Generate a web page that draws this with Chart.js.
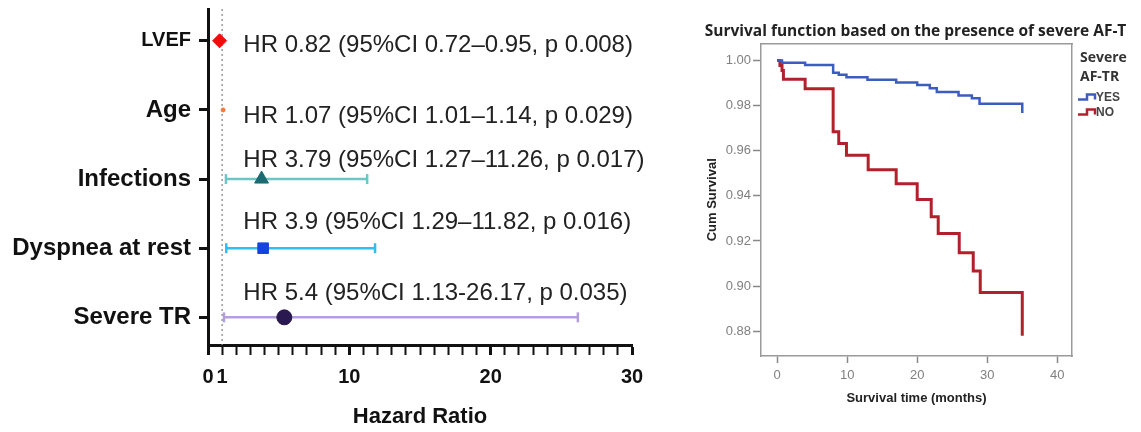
<!DOCTYPE html>
<html><head><meta charset="utf-8">
<script src="https://cdn.jsdelivr.net/npm/chart.js@4.4.1/dist/chart.umd.min.js"></script>
<style>
html,body{margin:0;padding:0;background:#fff;}
#wrap{position:relative;width:1141px;height:432px;overflow:hidden;background:#fff;}
#c1{position:absolute;left:0;top:0;}
#c2{position:absolute;left:690px;top:0;}
</style></head><body>
<div id="wrap"><canvas id="c1" width="660" height="432"></canvas><canvas id="c2" width="451" height="432"></canvas></div>
<script>
// ---------- Forest plot data ----------
const factors = ['LVEF', 'Age', 'Infections', 'Dyspnea at rest', 'Severe TR'];
const hr = [0.82, 1.07, 3.79, 3.9, 5.4];
const ciLow = [0.72, 1.01, 1.27, 1.29, 1.13];
const ciHigh = [0.95, 1.14, 11.26, 11.82, 26.17];
const hrText = [
  'HR 0.82 (95%CI 0.72\u20130.95, p 0.008)',
  'HR 1.07 (95%CI 1.01\u20131.14, p 0.029)',
  'HR 3.79 (95%CI 1.27\u201311.26, p 0.017)',
  'HR 3.9 (95%CI 1.29\u201311.82, p 0.016)',
  'HR 5.4 (95%CI 1.13-26.17, p 0.035)'
];
const hrLabeledTicks = [0, 1, 10, 20, 30];
const referenceHR = 1;

// ---------- Kaplan-Meier data ----------
const kmGroups = ['YES', 'NO'];
const kmTimeYes = [0, 0.7, 4, 8, 8.8, 9.9, 12.9, 17, 20, 21.8, 22.8, 25.9, 27.8, 28.9, 35];
const kmSurvYes = [1.000, 0.999, 0.998, 0.9946, 0.9937, 0.9926, 0.9915, 0.9903, 0.9892, 0.9877, 0.986, 0.9845, 0.9833, 0.9808, 0.9767];
const kmTimeNo = [0, 0.4, 0.7, 0.9, 4, 8, 8.8, 9.9, 13, 17, 20, 22, 23, 26, 28, 29, 35];
const kmSurvNo = [1.000, 0.9978, 0.9956, 0.9917, 0.9875, 0.9684, 0.9632, 0.958, 0.9516, 0.9454, 0.9384, 0.9307, 0.9233, 0.9148, 0.9067, 0.8972, 0.878];
const kmYTicks = [0.88, 0.90, 0.92, 0.94, 0.96, 0.98, 1.00];
const kmXTicks = [0, 10, 20, 30, 40];
const kmLegendTitle = ['Severe', 'AF-TR'];
const kmTitle = 'Survival function based on the presence of severe AF-T';

// ---------- styles ----------
const FAM = '"Liberation Sans", Arial, sans-serif';
Chart.defaults.font.family = FAM;
const markerShape = ['rectRot', 'circle', 'triangle', 'rect', 'circle'];
const markerColor = ['#f40a0a', '#f07a3a', '#1b6c72', '#1444e0', '#2a1850'];
const markerSize = [7, 2, 8, 7.5, 7.5];
const barColor = ['#f40a0a', '#f07a3a', '#6cc6c6', '#30bdf0', '#b49ee0'];
const capSize = [0, 0, 5, 5, 5];
const textDy = [5, 6.5, -19, -25.5, -23.5];
const Y_MIN = -0.46, Y_MAX = 4.4;

const ciSets = factors.map((f, i) => ({
  type: 'line',
  label: f + ' CI',
  data: [{x: ciLow[i], y: i}, {x: ciHigh[i], y: i}],
  borderColor: barColor[i],
  borderWidth: 2.5,
  pointStyle: 'line',
  rotation: 90,
  pointRadius: capSize[i],
  pointBorderColor: barColor[i],
  pointBorderWidth: 2.5,
  order: 1
}));

const hrTextPlugin = {
  id: 'hrText',
  afterDatasetsDraw(chart) {
    const {ctx, scales: {x, y}} = chart;
    ctx.save();
    ctx.font = '24px ' + FAM;
    ctx.fillStyle = '#222';
    ctx.textAlign = 'left';
    ctx.textBaseline = 'middle';
    hrText.forEach((t, i) => {
      ctx.fillText(t, x.getPixelForValue(2.5), y.getPixelForValue(i) + textDy[i]);
    });
    ctx.restore();
  }
};

new Chart(document.getElementById('c1'), {
  type: 'scatter',
  data: {
    datasets: [
      {
        type: 'scatter', label: 'HR',
        data: hr.map((v, i) => ({x: v, y: i})),
        pointStyle: markerShape,
        pointRadius: markerSize,
        pointBackgroundColor: markerColor,
        pointBorderColor: markerColor,
        pointBorderWidth: 1,
        order: 0
      },
      ...ciSets,
      {
        type: 'line', label: 'ref',
        data: [{x: referenceHR, y: Y_MIN}, {x: referenceHR, y: Y_MAX}],
        borderColor: '#8a8a8a', borderWidth: 1.3, borderDash: [2, 3],
        pointRadius: 0, order: 2
      }
    ]
  },
  options: {
    responsive: false, animation: false,
    layout: {padding: {top: 7, right: 28, left: 0, bottom: 0}},
    plugins: {legend: {display: false}, tooltip: {enabled: false}},
    scales: {
      x: {
        type: 'linear', min: 0, max: 30,
        afterBuildTicks: s => { const t = []; for (let v = 0; v <= 30; v++) t.push({value: v}); s.ticks = t; },
        ticks: {
          autoSkip: false, maxRotation: 0, minRotation: 0, padding: 10,
          callback: v => hrLabeledTicks.includes(v) ? String(v) : '',
          color: '#111', font: {size: 20, weight: 'bold'}
        },
        grid: {drawOnChartArea: false, tickLength: 10, tickColor: '#111',
          tickWidth: c => (c.tick && [0, 10, 20, 30].includes(c.tick.value)) ? 3 : 2},
        border: {display: true, color: '#111', width: 3},
        title: {display: true, text: 'Hazard Ratio', color: '#111',
          font: {size: 22, weight: 'bold'}, padding: {top: 0, bottom: 2}},
        afterFit: s => { s.height = 87; s.paddingLeft = 0; s.paddingRight = 0; }
      },
      y: {
        type: 'linear', reverse: true, min: Y_MIN, max: Y_MAX,
        afterBuildTicks: s => { s.ticks = factors.map((f, i) => ({value: i})); },
        ticks: {
          autoSkip: false, padding: 8,
          callback: v => factors[v],
          color: '#111',
          font: c => ({size: c.index === 0 ? 20 : 24, weight: 'bold', family: FAM})
        },
        grid: {drawOnChartArea: false, tickLength: 9, tickWidth: 3, tickColor: '#111'},
        border: {display: true, color: '#111', width: 3},
        afterFit: s => { s.width = 208; s.paddingTop = 0; s.paddingBottom = 0; }
      }
    }
  },
  plugins: [hrTextPlugin]
});

// ---------- Kaplan-Meier chart ----------
const kmColors = ['#3d5cbf', '#b2202b'];
const kmLegendPlugin = {
  id: 'kmLegend',
  afterDraw(chart) {
    const {ctx} = chart;
    ctx.save();
    ctx.fillStyle = '#333';
    ctx.font = 'bold 14px "Open Sans", ' + FAM;
    ctx.textAlign = 'left';
    ctx.textBaseline = 'middle';
    ctx.fillText(kmLegendTitle[0], 390, 58.5);
    ctx.fillText(kmLegendTitle[1], 390, 77);
    ctx.font = 'bold 12px ' + FAM;
    chart.data.datasets.forEach((ds, i) => {
      const yy = 97 + i * 15;
      ctx.strokeStyle = ds.borderColor;
      ctx.lineWidth = 2.5;
      ctx.beginPath();
      ctx.moveTo(388, yy + 2.5);
      ctx.lineTo(397, yy + 2.5);
      ctx.lineTo(397, yy - 2.5);
      ctx.lineTo(405, yy - 2.5);
      ctx.lineTo(405, yy + 2.5);
      ctx.stroke();
      ctx.fillStyle = '#444';
      ctx.fillText(ds.label, 406, yy + 0.5);
    });
    ctx.restore();
  }
};

new Chart(document.getElementById('c2'), {
  type: 'line',
  data: {
    datasets: [
      {label: kmGroups[0], data: kmTimeYes.map((t, i) => ({x: t, y: kmSurvYes[i]})),
       stepped: 'before', borderColor: kmColors[0], borderWidth: 2.5, pointRadius: 0, fill: false},
      {label: kmGroups[1], data: kmTimeNo.map((t, i) => ({x: t, y: kmSurvNo[i]})),
       stepped: 'before', borderColor: kmColors[1], borderWidth: 3, pointRadius: 0, fill: false}
    ]
  },
  options: {
    responsive: false, animation: false,
    layout: {padding: 0},
    plugins: {
      legend: {display: false}, tooltip: {enabled: false},
      title: {display: true, text: kmTitle, color: '#222',
        font: {family: '"Open Sans", ' + FAM, size: 15.5, weight: 'bold'},
        padding: {top: 22, bottom: 3}}
    },
    scales: {
      x: {
        type: 'linear', min: -2.3, max: 42.1,
        afterBuildTicks: s => { s.ticks = kmXTicks.map(v => ({value: v})); },
        ticks: {color: '#808080', font: {size: 13}, padding: 5, maxRotation: 0, autoSkip: false},
        grid: {drawOnChartArea: false, tickLength: 7, tickColor: '#888', tickWidth: 1.5},
        border: {color: '#9a9a9a', width: 1.5},
        title: {display: true, text: 'Survival time (months)', color: '#222',
          font: {size: 13, weight: 'bold'}, padding: {top: 0, bottom: 26}},
        afterFit: s => { s.height = 76; s.paddingLeft = 0; s.paddingRight = 0; }
      },
      y: {
        type: 'linear', min: 0.869, max: 1.0075,
        afterBuildTicks: s => { s.ticks = kmYTicks.map(v => ({value: v})); },
        ticks: {color: '#808080', font: {size: 13}, padding: 2, autoSkip: false,
          callback: v => Number(v).toFixed(2)},
        grid: {drawOnChartArea: false, tickLength: 8, tickColor: '#888', tickWidth: 1.5},
        border: {color: '#9a9a9a', width: 1.5},
        title: {display: true, text: 'Cum Survival', color: '#222',
          font: {size: 13, weight: 'bold'}, padding: {top: 15, bottom: 0}},
        afterFit: s => { s.width = 71; s.paddingTop = 0; s.paddingBottom = 0; }
      },
      x2: {
        type: 'linear', position: 'top', min: -2.3, max: 42.1,
        ticks: {display: false}, grid: {display: false},
        border: {display: true, color: '#9a9a9a', width: 1.5},
        afterFit: s => { s.height = 0; s.paddingLeft = 0; s.paddingRight = 0; }
      },
      y2: {
        type: 'linear', position: 'right', min: 0.869, max: 1.0075,
        ticks: {display: false}, grid: {display: false},
        border: {display: true, color: '#9a9a9a', width: 1.5},
        afterFit: s => { s.width = 69; s.paddingTop = 0; s.paddingBottom = 0; }
      }
    }
  },
  plugins: [kmLegendPlugin]
});
</script>
</body></html>
